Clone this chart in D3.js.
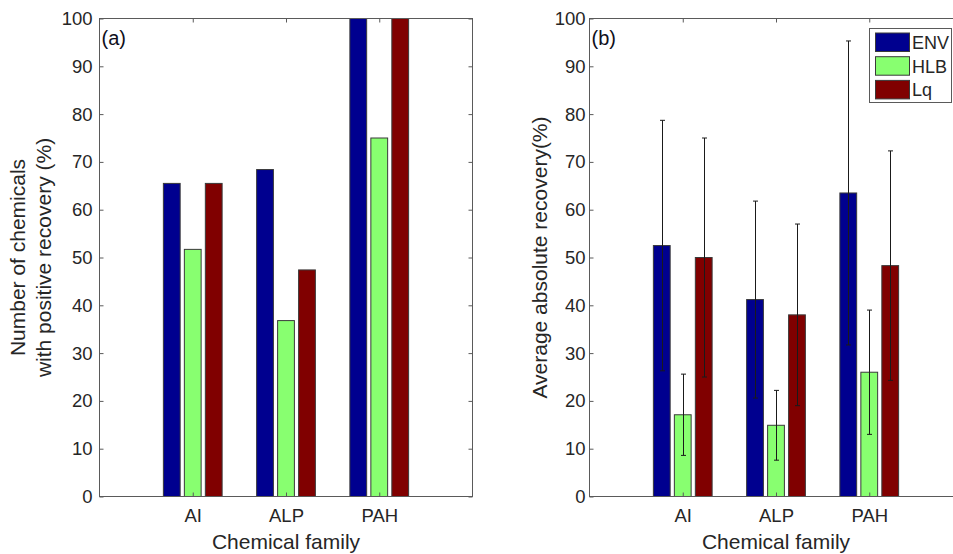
<!DOCTYPE html>
<html>
<head>
<meta charset="utf-8">
<script src="https://cdn.jsdelivr.net/npm/d3@7"></script>
<style>
  html, body { margin: 0; padding: 0; background: #fff; overflow: hidden; }
  svg { display: block; font-family: "Liberation Sans", Arial, Helvetica, sans-serif; }
</style>
</head>
<body>
<svg id="chart" width="953" height="554"></svg>
<script>
// ---------- data ----------
const categories = ["AI", "ALP", "PAH"];
const seriesNames = ["ENV", "HLB", "Lq"];
const seriesColors = ["#00008F", "#88FF70", "#800000"];
const yTicks = [0, 10, 20, 30, 40, 50, 60, 70, 80, 90, 100];

// panel (a): number of chemicals with positive recovery (%)
const positiveENV = [65.5, 68.4, 100];
const positiveHLB = [51.7, 36.8, 75];
const positiveLq  = [65.5, 47.4, 100];

// panel (b): average absolute recovery (%) and standard deviations
const averageENV = [52.5, 41.2, 63.5];
const averageHLB = [17.1, 14.9, 26.0];
const averageLq  = [50.0, 38.0, 48.3];
const errorENV = [26.2, 20.6, 31.8];
const errorHLB = [8.5, 7.3, 13.0];
const errorLq  = [25.0, 19.0, 24.0];

// ---------- drawing ----------
const svg = d3.select("#chart");
const textColor = "#262626";
const axisColor = "#5a5a5a";
const tickFont = 18.5;
const labelFont = 21;
const barOffsets = [-0.225, 0, 0.225];
const barWidthUnits = 0.18;

function drawPanel(opts) {
  const { left, top, bottom, width, values, errors, tag, labelLines, labelX, tickPad } = opts;
  const x = d3.scaleLinear().domain([0, 4]).range([left, left + width]);
  const y = d3.scaleLinear().domain([0, 100]).range([bottom, top]);
  const g = svg.append("g");
  const bw = x(barWidthUnits) - x(0);

  // bars
  values.forEach((vals, s) => {
    g.append("g").selectAll("rect")
      .data(vals)
      .join("rect")
      .attr("x", (d, i) => x(i + 1 + barOffsets[s]) - bw / 2)
      .attr("y", d => y(d))
      .attr("width", bw)
      .attr("height", d => y(0) - y(d))
      .attr("fill", seriesColors[s])
      .attr("stroke", "#3a3a3a")
      .attr("stroke-width", 1);
  });

  // error bars
  if (errors) {
    errors.forEach((errs, s) => {
      const eg = g.append("g").attr("stroke", "#1a1a1a").attr("stroke-width", 1);
      errs.forEach((e, i) => {
        const cx = Math.round(x(i + 1 + barOffsets[s])) + 0.5;
        const v = values[s][i];
        eg.append("line").attr("x1", cx).attr("x2", cx).attr("y1", y(v - e)).attr("y2", y(v + e));
        [v - e, v + e].forEach(t => {
          eg.append("line").attr("x1", cx - 2.5).attr("x2", cx + 2.5).attr("y1", y(t)).attr("y2", y(t));
        });
      });
    });
  }

  // axes
  const leftAxis = d3.axisLeft(y).tickValues(yTicks).tickSizeInner(-4).tickSizeOuter(0).tickPadding(tickPad);
  const rightAxis = d3.axisRight(y).tickValues(yTicks).tickSizeInner(-4).tickSizeOuter(0).tickFormat("");
  const topAxis = d3.axisTop(x).tickValues([1, 2, 3]).tickSizeInner(-4).tickSizeOuter(0).tickFormat("");
  const bottomAxis = d3.axisBottom(x).tickValues([1, 2, 3]).tickSizeInner(-4).tickSizeOuter(0)
    .tickPadding(12).tickFormat(d => categories[d - 1]);

  const styleAxis = sel => {
    sel.select(".domain").remove();
    sel.selectAll(".tick line").attr("stroke", axisColor);
    sel.selectAll(".tick text").attr("fill", textColor).style("font-size", tickFont + "px")
      .style("font-family", "'Liberation Sans', Arial, Helvetica, sans-serif");
  };
  g.append("g").attr("transform", `translate(${left},0)`).call(leftAxis).call(styleAxis);
  g.append("g").attr("transform", `translate(${left + width},0)`).call(rightAxis).call(styleAxis);
  g.append("g").attr("transform", `translate(0,${top})`).call(topAxis).call(styleAxis);
  g.append("g").attr("transform", `translate(0,${bottom})`).call(bottomAxis).call(styleAxis);

  // box
  g.append("rect").attr("x", left).attr("y", top).attr("width", width).attr("height", bottom - top)
    .attr("fill", "none").attr("stroke", axisColor).attr("stroke-width", 1);

  // panel tag
  g.append("text").attr("x", left + 2).attr("y", top + 26).text(tag)
    .attr("fill", "#101020").style("font-size", "20px");

  // x label
  g.append("text").attr("x", x(2)).attr("y", 549).attr("text-anchor", "middle")
    .attr("fill", textColor).style("font-size", labelFont + "px").text("Chemical family");

  // y label
  const cy = (top + bottom) / 2;
  labelLines.forEach((line, k) => {
    g.append("text")
      .attr("transform", `translate(${labelX[k]},${cy}) rotate(-90)`)
      .attr("text-anchor", "middle")
      .attr("fill", textColor).style("font-size", labelFont + "px")
      .text(line);
  });
  return { x, y };
}

drawPanel({
  left: 99.5, top: 18.5, bottom: 496.5, width: 373,
  values: [positiveENV, positiveHLB, positiveLq],
  errors: null, tag: "(a)",
  labelLines: ["Number of chemicals", "with positive recovery (%)"],
  labelX: [25, 51], tickPad: 7
});

drawPanel({
  left: 589.5, top: 18.5, bottom: 496.5, width: 373,
  values: [averageENV, averageHLB, averageLq],
  errors: [errorENV, errorHLB, errorLq], tag: "(b)",
  labelLines: ["Average absolute recovery(%)"],
  labelX: [547], tickPad: 4
});

// legend
const legend = svg.append("g");
legend.append("rect").attr("x", 869.5).attr("y", 28.5).attr("width", 82).attr("height", 74)
  .attr("fill", "#fff").attr("stroke", axisColor).attr("stroke-width", 1);
seriesNames.forEach((name, i) => {
  const ly = 33 + i * 23.7;
  legend.append("rect").attr("x", 875.5).attr("y", ly).attr("width", 34).attr("height", 18.5)
    .attr("fill", seriesColors[i]).attr("stroke", "#3a3a3a").attr("stroke-width", 1);
  legend.append("text").attr("x", 912).attr("y", ly + 16).text(name)
    .attr("fill", textColor).style("font-size", "18px");
});
</script>
</body>
</html>
